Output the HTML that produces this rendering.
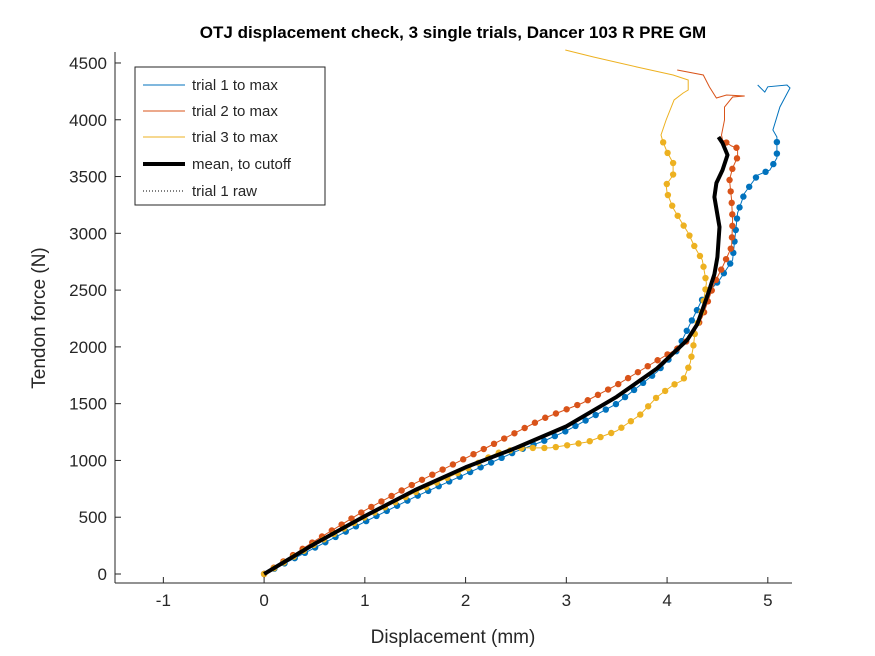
<!DOCTYPE html>
<html><head><meta charset="utf-8"><style>
body{margin:0;background:#fff;position:relative}
svg text{font-family:"Liberation Sans",sans-serif;fill:#262626;}
#chart{position:absolute;left:0;top:0}
</style></head><body>
<svg id="chart" width="875" height="656" xmlns="http://www.w3.org/2000/svg">
<rect x="0" y="0" width="875" height="656" fill="#fff"/>
<g id="plot"></g>
<g id="axes"></g>
</svg>
<script>
const xTicks=[-1,0,1,2,3,4,5];
const yTicks=[0,500,1000,1500,2000,2500,3000,3500,4000,4500];
const t1x=[0,0.5,1,1.5,2,2.5,2.8,3,3.5,3.9,4.1,4.2,4.3,4.35,4.52,4.65,4.7,4.77,4.9,5.02,5.09,5.09,5.05,5.12,5.22,5.19,5.0,4.97,4.9];
const t1y=[0,230,460,680,880,1080,1180,1260,1500,1780,1970,2150,2330,2420,2590,2765,3180,3355,3513,3557,3663,3848,3910,4112,4280,4306,4290,4244,4306];
const t1dots=22;
const t2x=[0,0.5,1,1.5,2,2.22,2.76,3.16,3.5,3.86,4.16,4.26,4.35,4.47,4.55,4.64,4.65,4.64,4.62,4.65,4.7,4.7,4.64,4.55,4.54,4.57,4.57,4.65,4.77,4.59,4.49,4.42,4.36,4.10];
const t2y=[0,290,560,800,1020,1118,1365,1506,1664,1858,2016,2122,2263,2562,2703,2880,3117,3293,3470,3575,3672,3750,3769,3822,3866,3998,4112,4200,4209,4218,4192,4289,4394,4438];
const t2dots=25;
const t3x=[0,0.5,1,1.5,2,2.31,2.57,2.84,3.21,3.5,3.73,3.9,4.06,4.16,4.23,4.26,4.28,4.35,4.39,4.35,4.28,4.21,4.13,4.06,4.0,3.99,4.06,4.06,4.0,3.96,3.94,3.99,4.07,4.16,4.21,4.21,4.06,3.70,3.27,2.99];
const t3y=[0,260,500,720,920,1065,1110,1110,1162,1260,1400,1559,1664,1708,1858,2000,2150,2325,2562,2765,2870,3003,3117,3223,3355,3425,3513,3619,3716,3804,3866,3998,4174,4236,4262,4350,4394,4465,4553,4614];
const t3dots=31;
const mx=[0,0.5,1,1.5,2,2.5,3,3.5,3.9,4.2,4.3,4.4,4.47,4.5,4.52,4.47,4.49,4.55,4.6,4.55,4.51];
const my=[0,265,510,740,940,1110,1300,1560,1810,2060,2200,2450,2640,2791,3056,3320,3443,3557,3690,3795,3848];
const X0=115,X1=792,Y0=52,Y1=583,xmin=-1.48,xmax=5.24;
const sx=v=>X0+(v-xmin)/(xmax-xmin)*(X1-X0);
const sy=v=>574-v*0.11356;
const NS="http://www.w3.org/2000/svg";
const plot=document.getElementById('plot'),axes=document.getElementById('axes');
function mk(tag,attrs,parent){const e=document.createElementNS(NS,tag);for(const k in attrs)e.setAttribute(k,attrs[k]);parent.appendChild(e);return e;}
function path(xs,ys,n){let d='';for(let i=0;i<n;i++)d+=(i?'L':'M')+sx(xs[i]).toFixed(1)+' '+sy(ys[i]).toFixed(1);return d;}
function series(xs,ys,nd,col,name){
  const g=mk('g',{},plot);
  
  
  mk('path',{d:path(xs,ys,xs.length),fill:'none',stroke:col,'stroke-width':1},g);
  let px=[],py=[];for(let i=0;i<nd;i++){px.push(sx(xs[i]));py.push(sy(ys[i]));}
  let step=11.5,acc=0;
  const c=mk('circle',{cx:px[0],cy:py[0],r:3.2,fill:col},g);
  
  
  for(let i=1;i<px.length;i++){
    const dx=px[i]-px[i-1],dy=py[i]-py[i-1],L=Math.hypot(dx,dy);
    let s=step-acc;
    while(s<=L){const d=mk('circle',{cx:px[i-1]+dx*s/L,cy:py[i-1]+dy*s/L,r:3.2,fill:col},g);
      
      
      s+=step;}
    acc=(acc+L)%step;
  }
}
series(t1x,t1y,t1dots,'#0072BD','trial-1-series');
series(t2x,t2y,t2dots,'#D95319','trial-2-series');
series(t3x,t3y,t3dots,'#EDB120','trial-3-series');
const ml=mk('path',{d:path(mx,my,mx.length),fill:'none',stroke:'#000','stroke-width':4,'stroke-linejoin':'round'},plot);


mk('line',{x1:X0,y1:Y1,x2:X1,y2:Y1,stroke:'#262626','stroke-width':1},axes);
mk('line',{x1:X0,y1:Y0,x2:X0,y2:Y1,stroke:'#262626','stroke-width':1},axes);
xTicks.forEach(v=>{const x=sx(v);
  mk('line',{x1:x,y1:Y1,x2:x,y2:Y1-6,stroke:'#262626'},axes);
  const t=mk('text',{x:x,y:Y1+23,'text-anchor':'middle','font-size':17},axes);t.textContent=v;
  
  });
yTicks.forEach(v=>{const y=sy(v);
  mk('line',{x1:X0,y1:y,x2:X0+6,y2:y,stroke:'#262626'},axes);
  const t=mk('text',{x:X0-8,y:y+6,'text-anchor':'end','font-size':17},axes);t.textContent=v;
  
  });
</script>
<svg style="position:absolute;left:0;top:0" width="875" height="656" xmlns="http://www.w3.org/2000/svg">
<text x="453" y="38" text-anchor="middle" font-size="17" font-weight="bold" style="fill:#000">OTJ displacement check, 3 single trials, Dancer 103 R PRE GM</text>
<text x="453" y="643" text-anchor="middle" font-size="19">Displacement (mm)</text>
<text transform="translate(45,318) rotate(-90)" text-anchor="middle" font-size="19">Tendon force (N)</text>
<g>
<rect x="135" y="67" width="190" height="138" fill="#fff" stroke="#262626" stroke-width="1"/>
<line x1="143" y1="85" x2="185" y2="85" stroke="#0072BD"/><text x="192" y="90" font-size="15">trial 1 to max</text>
<line x1="143" y1="111" x2="185" y2="111" stroke="#D95319"/><text x="192" y="116" font-size="15">trial 2 to max</text>
<line x1="143" y1="137" x2="185" y2="137" stroke="#EDB120"/><text x="192" y="142" font-size="15">trial 3 to max</text>
<line x1="143" y1="164" x2="185" y2="164" stroke="#000" stroke-width="4"/><text x="192" y="169" font-size="15">mean, to cutoff</text>
<line x1="143" y1="191" x2="185" y2="191" stroke="#000" stroke-dasharray="1,2"/><text x="192" y="196" font-size="15">trial 1 raw</text>
</g>
</svg>
</body></html>
